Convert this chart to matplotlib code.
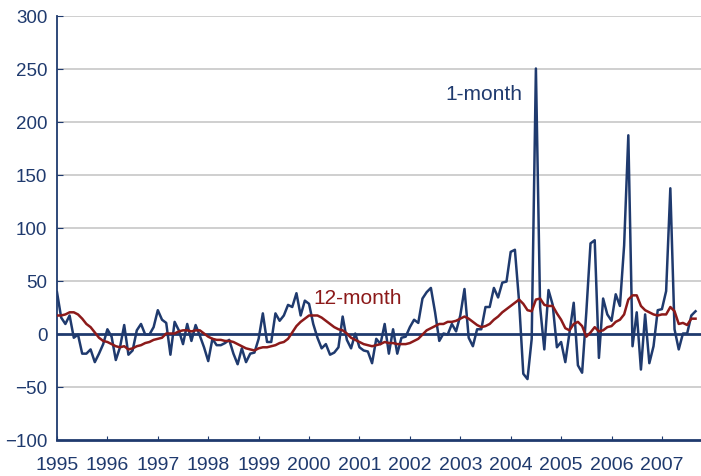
import matplotlib.pyplot as plt

years = [1995, 1996, 1997, 1998, 1999, 2000, 2001, 2002, 2003, 2004, 2005, 2006, 2007]

# monthly values, Jan 1995 onwards
one_month = [39, 15, 9, 17, -4, -1, -19, -19, -15, -27, -19, -10,
             4, -3, -25, -13, 8, -20, -16, 3, 9, -1, -1, 6,
             22, 13, 10, -20, 11, 3, -10, 9, -7, 8, -2, -13,
             -26, -5, -11, -11, -9, -6, -19, -29, -14, -27, -19, -18,
             -5, 19, -8, -8, 19, 12, 17, 27, 25, 38, 17, 31,
             28, 9, -4, -14, -10, -20, -18, -13, 16, -6, -14, 0,
             -13, -16, -17, -28, -5, -10, 9, -19, 4, -19, -4, -3,
             6, 13, 10, 33, 39, 43, 20, -7, 0, -1, 9, 2,
             17, 42, -4, -12, 4, 4, 25, 25, 43, 34, 48, 49,
             77, 79, 30, -38, -43, -5, 250, 25, -15, 41, 27, -13,
             -8, -27, 1, 29, -30, -37, 20, 85, 88, -23, 33, 18,
             12, 37, 26, 83, 187, -12, 20, -34, 18, -28, -12, 22,
             23, 40, 137, 4, -15, 0, 0, 17, 21]

twelve_month = [17, 17, 18, 20, 20, 18, 14, 9, 6, 1, -4, -7,
                -8, -10, -12, -13, -12, -15, -14, -12, -11, -9, -8, -6,
                -5, -4, 0, 0, 0, 2, 3, 3, 2, 3, 3, 0,
                -3, -5, -6, -6, -7, -7, -8, -10, -12, -14, -15, -16,
                -14, -13, -13, -12, -11, -9, -8, -5, 1, 7, 11, 14,
                17, 17, 17, 15, 12, 9, 6, 4, 3, 0, -4, -6,
                -8, -10, -11, -12, -11, -10, -8, -9, -9, -10, -10, -10,
                -9, -7, -5, -1, 3, 5, 7, 9, 9, 11, 11, 12,
                14, 16, 14, 11, 8, 6, 7, 9, 13, 16, 20, 23,
                26, 29, 32, 28, 22, 21, 32, 33, 27, 26, 26, 19,
                13, 5, 3, 9, 11, 7, -3, 1, 6, 2, 3, 6,
                7, 11, 13, 18, 32, 36, 36, 26, 22, 20, 18, 17,
                18, 18, 25, 21, 9, 10, 8, 14, 14]

navy = "#1f3a6e"
red = "#8c1a1a"

plt.rcParams['font.family'] = ['Liberation Sans', 'DejaVu Sans']

fig = plt.figure(figsize=(7.01, 4.77), dpi=100)
ax = fig.add_axes([0.0813, 0.0765, 0.9187, 0.8889])

for v in [-50, 50, 100, 150, 200, 250, 300]:
    ax.axhline(v, color="#cccccc", lw=1.3, zorder=0)
ax.axhline(0, color=navy, lw=2.0, zorder=1)

ax.plot(range(len(one_month)), one_month, color=navy, lw=1.8, zorder=3)
ax.plot(range(len(twelve_month)), twelve_month, color=red, lw=1.8, zorder=4)

ax.text(92.4, 226, "1-month", color=navy, fontsize=15, va="center")
ax.text(61, 34.4, "12-month", color=red, fontsize=15, va="center")

ax.set_xlim(0, 153.3)
ax.set_ylim(-100, 300)
ax.set_yticks(range(-100, 301, 50))
ax.set_xticks([12 * i for i in range(len(years))])
ax.set_xticklabels(years)

for s in ["top", "right"]:
    ax.spines[s].set_visible(False)
ax.spines["left"].set_color(navy)
ax.spines["left"].set_linewidth(1.3)
ax.spines["bottom"].set_color(navy)
ax.spines["bottom"].set_linewidth(2.0)

ax.tick_params(axis="y", direction="in", length=4, color=navy, labelcolor=navy, labelsize=13.5, pad=7)
ax.tick_params(axis="x", direction="in", length=3, color=navy, labelcolor=navy, labelsize=14, pad=12)

fig.savefig("out.png", dpi=100)
